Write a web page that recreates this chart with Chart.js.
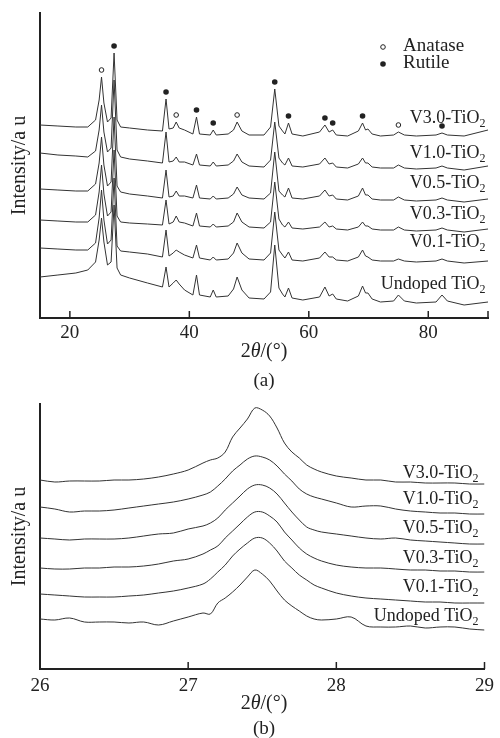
<!DOCTYPE html>
<html>
<head>
<meta charset="utf-8">
<script src="https://cdn.jsdelivr.net/npm/chart.js@4"></script>
<style>
  body { margin: 0; background: #fff; font-family: "Liberation Serif", serif; color: #222; }
  .box { position: absolute; left: 0; width: 500px; }
  .txt { position: absolute; transform: translate(-50%, -50%); font-size: 20px; white-space: nowrap; }
</style>
</head>
<body>
<div class="box" style="top:0;height:345px"><canvas id="chartA"></canvas></div>
<div class="box" style="top:395px;height:300px"><canvas id="chartB"></canvas></div>
<div class="txt" style="left:264px;top:350px">2<i>θ</i>/(°)</div>
<div class="txt" style="left:264px;top:380px;font-size:19px">(a)</div>
<div class="txt" style="left:264px;top:702px">2<i>θ</i>/(°)</div>
<div class="txt" style="left:264px;top:728px;font-size:19px">(b)</div>
<script>
// samples, top curve first
const samples = ["V3.0-TiO2", "V1.0-TiO2", "V0.5-TiO2", "V0.3-TiO2", "V0.1-TiO2", "Undoped TiO2"];

// PANEL (a): full scan 15-90 deg, stacked intensities (a.u.)
const twoThetaA = [15, 18, 21, 23, 24.3, 24.9, 25.3, 25.7, 26.3, 26.9,
  27.4, 27.9, 28.5, 30, 33, 35.5, 36.1, 36.6, 37.3, 37.8,
  38.3, 39.2, 40.6, 41.2, 41.7, 43.5, 44.0, 44.5, 46.5, 47.4,
  48.0, 48.8, 50, 52.5, 53.6, 54.3, 55.0, 55.6, 56.0, 56.6,
  57.2, 59, 61.8, 62.7, 63.4, 64.0, 64.6, 66.5, 68.3, 69.0,
  69.5, 69.9, 70.6, 72, 74.2, 75.0, 76, 78, 81.3, 82.3,
  83.2, 86, 90];
const a_v30 = [193, 192, 191, 191, 198, 218, 241, 215, 196, 200,
  265, 198, 191, 190, 188, 187, 219, 189, 190, 196,
  190, 188, 184, 201, 184, 183, 188, 183, 184, 188,
  196, 187, 183, 183, 191, 229, 192, 187, 184, 195,
  184, 182, 186, 193, 186, 188, 183, 182, 187, 195,
  188, 189, 184, 182, 183, 186, 183, 182, 183, 185,
  183, 182, 188];
const a_v10 = [165, 163, 162, 161, 167, 188, 213, 186, 166, 170,
  238, 168, 161, 159, 157, 155, 186, 156, 157, 161,
  156, 156, 153, 164, 153, 152, 156, 152, 153, 157,
  164, 156, 152, 151, 158, 196, 160, 155, 153, 160,
  152, 151, 154, 160, 154, 155, 151, 150, 154, 160,
  155, 155, 151, 150, 150, 153, 150, 149, 150, 152,
  150, 148, 152];
const a_v05 = [129, 128, 127, 127, 134, 155, 181, 153, 132, 136,
  201, 132, 126, 124, 122, 120, 148, 121, 122, 127,
  122, 122, 120, 133, 120, 119, 122, 119, 120, 124,
  131, 123, 120, 119, 125, 166, 127, 123, 121, 130,
  120, 119, 122, 128, 122, 123, 119, 118, 122, 130,
  123, 123, 119, 118, 118, 121, 118, 117, 118, 120,
  118, 116, 119];
const a_v03 = [98, 97, 96, 96, 103, 126, 153, 124, 102, 106,
  168, 102, 96, 95, 94, 93, 118, 94, 96, 102,
  96, 95, 92, 105, 92, 91, 94, 91, 92, 96,
  105, 96, 91, 90, 96, 136, 99, 93, 91, 96,
  90, 89, 91, 96, 91, 92, 89, 88, 91, 96,
  92, 92, 89, 88, 88, 91, 88, 87, 88, 90,
  88, 86, 89];
const a_v01 = [70, 69, 68, 68, 75, 100, 128, 98, 74, 78,
  140, 72, 67, 66, 64, 61, 88, 62, 65, 68,
  66, 63, 60, 73, 60, 58, 61, 58, 59, 65,
  75, 65, 59, 58, 65, 106, 68, 63, 60, 66,
  58, 57, 60, 66, 61, 61, 58, 57, 61, 68,
  62, 61, 58, 57, 57, 59, 57, 56, 57, 59,
  57, 55, 57];
const a_undoped = [41, 43, 45, 48, 56, 78, 100, 76, 53, 56,
  113, 50, 43, 40, 35, 31, 51, 31, 35, 38,
  34, 28, 23, 43, 23, 21, 28, 21, 22, 29,
  41, 28, 20, 19, 26, 73, 30, 24, 21, 30,
  20, 18, 21, 31, 22, 24, 19, 17, 22, 32,
  25, 25, 19, 16, 17, 23, 17, 15, 16, 23,
  17, 13, 16];
const anatasePeaks = [25.3, 37.8, 48.0, 75.0];
const rutilePeaks = [27.4, 36.1, 41.2, 44.0, 54.3, 56.6, 62.7, 64.0, 69.0, 82.3];
const ticksA = [20, 40, 60, 80];

// PANEL (b): zoom on rutile (110) peak, 26-29 deg
const twoThetaB = [26.0, 26.1, 26.2, 26.3, 26.4, 26.5, 26.6, 26.7, 26.8, 26.9,
  27.0, 27.1, 27.15, 27.2, 27.25, 27.3, 27.35, 27.4, 27.45, 27.5,
  27.55, 27.6, 27.65, 27.7, 27.75, 27.8, 27.85, 27.9, 28.0, 28.1,
  28.2, 28.3, 28.4, 28.5, 28.6, 28.7, 28.8, 28.9, 29.0];
const b_v30 = [189, 187, 188, 188, 188, 189, 189, 190, 192, 195,
  199, 206, 209, 211, 217, 232, 241, 250, 261, 259,
  253, 241, 226, 217, 211, 204, 200, 197, 193, 191,
  189, 189, 187, 187, 186, 186, 186, 185, 185];
const b_v10 = [162, 160, 157, 158, 158, 159, 161, 163, 165, 167,
  170, 174, 177, 183, 190, 198, 204, 210, 213, 212,
  209, 203, 195, 188, 180, 175, 172, 170, 166, 162,
  163, 163, 160, 158, 157, 156, 156, 155, 155];
const b_v05 = [131, 130, 129, 130, 130, 130, 131, 133, 135, 136,
  140, 143, 146, 151, 159, 166, 173, 180, 184, 184,
  181, 175, 166, 157, 149, 142, 139, 137, 135, 133,
  131, 130, 131, 129, 128, 127, 126, 125, 125];
const b_v03 = [101, 100, 100, 101, 101, 102, 102, 103, 105, 108,
  110, 115, 119, 123, 131, 138, 145, 152, 157, 157,
  153, 147, 137, 129, 121, 115, 111, 108, 104, 102,
  101, 101, 100, 99, 99, 98, 98, 97, 97];
const b_v01 = [75, 74, 73, 72, 72, 72, 73, 74, 76, 78,
  81, 85, 90, 97, 104, 113, 120, 126, 131, 131,
  126, 118, 108, 101, 94, 89, 84, 81, 76, 73,
  71, 70, 69, 68, 67, 67, 66, 66, 66];
const b_undoped = [50, 49, 51, 47, 47, 47, 46, 47, 44, 48,
  52, 56, 55, 66, 71, 77, 84, 92, 99, 95,
  88, 78, 69, 63, 58, 53, 50, 49, 50, 52,
  43, 42, 42, 43, 41, 42, 42, 40, 39];
const ticksB = [26, 27, 28, 29];

const serif = "'Liberation Serif', 'Times New Roman', serif";
const ink = "#222";

function toPoints(xs, ys) {
  return xs.map((x, i) => ({ x: x, y: ys[i] }));
}

function curve(xs, ys, tension) {
  return {
    data: toPoints(xs, ys),
    borderColor: "#333",
    borderWidth: 1,
    pointRadius: 0,
    tension: tension,
    fill: false,
  };
}

// inward tick marks on the x axis
const innerTicks = {
  id: "innerTicks",
  afterDraw(chart, args, opts) {
    const { ctx, chartArea } = chart;
    const xs = chart.scales.x;
    ctx.save();
    ctx.strokeStyle = ink;
    ctx.lineWidth = 1.5;
    opts.values.forEach((v) => {
      const px = xs.getPixelForValue(v);
      ctx.beginPath();
      ctx.moveTo(px, chartArea.bottom);
      ctx.lineTo(px, chartArea.bottom - 7);
      ctx.stroke();
    });
    ctx.restore();
  },
};

// sample names at the right end of each curve, with subscript 2
const curveLabels = {
  id: "curveLabels",
  afterDraw(chart, args, opts) {
    const { ctx } = chart;
    const right = chart.scales.x.getPixelForValue(opts.x);
    ctx.save();
    ctx.fillStyle = ink;
    ctx.textBaseline = "middle";
    ctx.textAlign = "left";
    samples.forEach((name, i) => {
      const main = name.slice(0, -1);
      const sub = name.slice(-1);
      const y = chart.scales.y.getPixelForValue(opts.y[i]);
      ctx.font = "12px " + serif;
      const wSub = ctx.measureText(sub).width;
      ctx.font = "18px " + serif;
      const wMain = ctx.measureText(main).width;
      ctx.fillText(main, right - wSub - wMain, y);
      ctx.font = "12px " + serif;
      ctx.fillText(sub, right - wSub, y + 6);
    });
    ctx.restore();
  },
};

// Anatase / Rutile key
const phaseKey = {
  id: "phaseKey",
  afterDraw(chart) {
    const { ctx, chartArea } = chart;
    const x = chartArea.left + 343;
    const y = chartArea.top + 33;
    ctx.save();
    ctx.strokeStyle = ink;
    ctx.fillStyle = ink;
    ctx.lineWidth = 1;
    ctx.beginPath();
    ctx.arc(x, y + 1, 2.3, 0, Math.PI * 2);
    ctx.stroke();
    ctx.beginPath();
    ctx.arc(x, y + 18, 2.8, 0, Math.PI * 2);
    ctx.fill();
    ctx.font = "19px " + serif;
    ctx.textBaseline = "middle";
    ctx.fillText("Anatase", x + 20, y);
    ctx.fillText("Rutile", x + 20, y + 17);
    ctx.restore();
  },
};

function axes(xmin, xmax, ymax, ticks, xHeight, labelPad) {
  return {
    x: {
      type: "linear",
      min: xmin,
      max: xmax,
      afterBuildTicks: (scale) => {
        scale.ticks = ticks.map((v) => ({ value: v }));
      },
      afterFit: (scale) => {
        scale.height = xHeight;
      },
      grid: { display: false, drawTicks: false },
      border: { display: true, width: 2, color: ink },
      ticks: { padding: labelPad, color: ink, font: { family: serif, size: 19 }, maxRotation: 0 },
    },
    y: {
      min: 0,
      max: ymax,
      afterFit: (scale) => {
        scale.width = 32;
      },
      grid: { display: false, drawTicks: false },
      border: { display: true, width: 2, color: ink },
      ticks: { display: false },
      title: {
        display: true,
        text: "Intensity/a u",
        color: ink,
        padding: 0,
        font: { family: serif, size: 20 },
      },
    },
  };
}

// PANEL (a)
const aSeries = [a_v30, a_v10, a_v05, a_v03, a_v01, a_undoped];
const ctxA = document.getElementById("chartA").getContext("2d");
new Chart(ctxA, {
  type: "line",
  data: {
    datasets: aSeries.map((s) => curve(twoThetaA, s, 0)).concat([
      {
        type: "scatter",
        data: anatasePeaks.map((p) => ({ x: p, y: a_v30[twoThetaA.indexOf(p)] + 7 })),
        pointRadius: 2.3,
        pointBackgroundColor: "#fff",
        pointBorderColor: ink,
        pointBorderWidth: 1,
      },
      {
        type: "scatter",
        data: rutilePeaks.map((p) => ({ x: p, y: a_v30[twoThetaA.indexOf(p)] + 7 })),
        pointRadius: 2.8,
        pointBackgroundColor: ink,
        pointBorderColor: ink,
        pointBorderWidth: 0,
      },
    ]),
  },
  options: {
    responsive: true,
    maintainAspectRatio: false,
    animation: false,
    layout: { padding: { top: 13, right: 12, left: 8, bottom: 0 } },
    scales: axes(15, 90, 305, ticksA, 27, 4),
    plugins: {
      legend: { display: false },
      tooltip: { enabled: false },
      innerTicks: { values: [20, 40, 60, 80, 90] },
      curveLabels: { x: 89.6, y: [200, 165, 135, 104, 76, 34] },
    },
  },
  plugins: [innerTicks, curveLabels, phaseKey],
});

// PANEL (b)
const bSeries = [b_v30, b_v10, b_v05, b_v03, b_v01, b_undoped];
const ctxB = document.getElementById("chartB").getContext("2d");
new Chart(ctxB, {
  type: "line",
  data: {
    datasets: bSeries.map((s) => curve(twoThetaB, s, 0.35)),
  },
  options: {
    responsive: true,
    maintainAspectRatio: false,
    animation: false,
    layout: { padding: { top: 9, right: 12, left: 8, bottom: 0 } },
    scales: axes(26, 29, 265, ticksB, 26, 6),
    plugins: {
      legend: { display: false },
      tooltip: { enabled: false },
      innerTicks: { values: [27, 28, 29] },
      curveLabels: { x: 28.96, y: [196, 170, 141, 111, 82, 53] },
    },
  },
  plugins: [innerTicks, curveLabels],
});
</script>
</body>
</html>
